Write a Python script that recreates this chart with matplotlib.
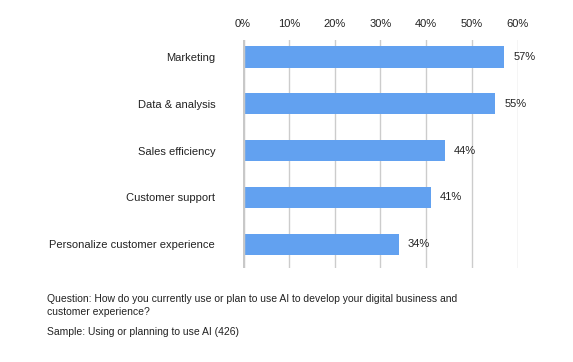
import matplotlib.pyplot as plt

plt.rcParams['font.family'] = ['Liberation Sans', 'DejaVu Sans']

categories = ['Marketing', 'Data & analysis', 'Sales efficiency',
              'Customer support', 'Personalize customer experience']
values = [57, 55, 44, 41, 34]
ticks = [0, 10, 20, 30, 40, 50, 60]

fig = plt.figure(figsize=(5.73, 3.62), dpi=100)
ax = fig.add_axes([0.424, 0.26, 0.48, 0.629])

pos = list(range(len(categories)))
ax.barh(pos, values, height=0.45, color='#62a1f0', zorder=3)
for p, v in zip(pos, values):
    ax.text(v + 2, p, f'{v}%', va='center', ha='left', fontsize=8, color='#222222')

ax.set_xlim(0, 60)
ax.set_ylim(4.51, -0.36)
ax.set_xticks(ticks)
ax.set_xticklabels([f'{t}%' for t in ticks], fontsize=8, color='#222222')
ax.xaxis.tick_top()
ax.tick_params(axis='x', length=0, pad=8)
ax.set_yticks(pos)
ax.set_yticklabels(categories, fontsize=8, color='#222222')
ax.tick_params(axis='y', length=0, pad=20)
ax.grid(axis='x', color='#cccccc', linewidth=1, zorder=0)
for s in ax.spines.values():
    s.set_visible(False)
ax.axvline(0, color='#c8c8c8', linewidth=2.5, zorder=4)

fig.text(0.082, 0.156, 'Question: How do you currently use or plan to use AI to develop your digital business and\ncustomer experience?',
         fontsize=7.5, va='center', ha='left', color='#222222', linespacing=1.45)
fig.text(0.082, 0.083, 'Sample: Using or planning to use AI (426)',
         fontsize=7.5, va='center', ha='left', color='#222222')

fig.savefig('out.png', dpi=100)
